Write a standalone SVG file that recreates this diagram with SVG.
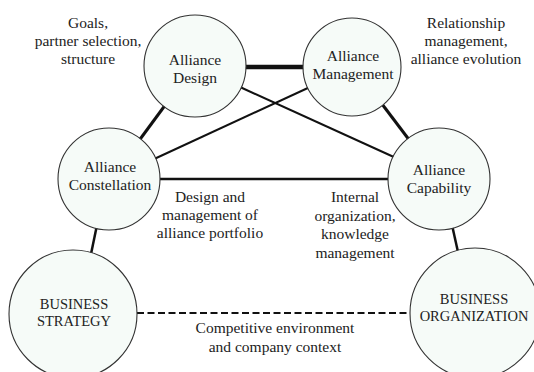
<svg xmlns="http://www.w3.org/2000/svg" width="534" height="372" viewBox="0 0 534 372">
  <style>
    .node { fill: #f6fbf8; stroke: #333; stroke-width: 1.1; }
    .lbl { font-family: "Liberation Serif", "Times New Roman", serif; font-size: 15.5px; fill: #222; text-anchor: middle; }
    .caps { font-size: 14.5px; }
    .edge { stroke: #111; fill: none; }
  </style>
  <rect width="534" height="372" fill="#ffffff"/>

  <!-- connectors drawn first so the circles cover their ends -->
  <g id="connectors">
    <line class="edge" x1="240" y1="67" x2="308" y2="67" stroke-width="4.5"/>
    <line class="edge" x1="166" y1="104" x2="138" y2="142" stroke-width="3"/>
    <line class="edge" x1="382" y1="104" x2="410" y2="141" stroke-width="3"/>
    <line class="edge" x1="240" y1="87" x2="396" y2="158" stroke-width="2"/>
    <line class="edge" x1="310" y1="87" x2="152" y2="160" stroke-width="2"/>
    <line class="edge" x1="156" y1="179" x2="392" y2="179" stroke-width="2.5"/>
    <line class="edge" x1="97" y1="225" x2="91" y2="254" stroke-width="2.5"/>
    <line class="edge" x1="452" y1="225" x2="458" y2="252" stroke-width="2.5"/>
    <line class="edge" x1="137" y1="313" x2="411" y2="313" stroke-width="2" stroke-dasharray="7,3.5"/>
  </g>

  <g id="alliance-design">
    <circle class="node" cx="195" cy="66" r="51"/>
    <text class="lbl" x="195" y="65">Alliance</text>
    <text class="lbl" x="195" y="83">Design</text>
  </g>

  <g id="alliance-management">
    <circle class="node" cx="352" cy="67" r="49"/>
    <text class="lbl" x="353" y="61">Alliance</text>
    <text class="lbl" x="353" y="79">Management</text>
  </g>

  <g id="alliance-constellation">
    <circle class="node" cx="109" cy="179" r="51"/>
    <text class="lbl" x="110" y="172">Alliance</text>
    <text class="lbl" x="110" y="190">Constellation</text>
  </g>

  <g id="alliance-capability">
    <circle class="node" cx="439" cy="179" r="51"/>
    <text class="lbl" x="439" y="175">Alliance</text>
    <text class="lbl" x="439" y="193">Capability</text>
  </g>

  <g id="business-strategy">
    <circle class="node" cx="73" cy="314" r="64"/>
    <text class="lbl caps" x="74" y="309">BUSINESS</text>
    <text class="lbl caps" x="74" y="326">STRATEGY</text>
  </g>

  <g id="business-organization">
    <circle class="node" cx="475" cy="313" r="65"/>
    <text class="lbl caps" x="474" y="304">BUSINESS</text>
    <text class="lbl caps" x="474" y="321">ORGANIZATION</text>
  </g>

  <!-- free-standing annotations -->
  <g id="notes">
    <text class="lbl" x="88" y="28">Goals,</text>
    <text class="lbl" x="88" y="46">partner selection,</text>
    <text class="lbl" x="88" y="64">structure</text>

    <text class="lbl" x="466" y="28">Relationship</text>
    <text class="lbl" x="466" y="46">management,</text>
    <text class="lbl" x="466" y="64">alliance evolution</text>

    <text class="lbl" x="210" y="202">Design and</text>
    <text class="lbl" x="210" y="220">management of</text>
    <text class="lbl" x="210" y="238">alliance portfolio</text>

    <text class="lbl" x="355" y="202">Internal</text>
    <text class="lbl" x="355" y="220.5">organization,</text>
    <text class="lbl" x="355" y="239">knowledge</text>
    <text class="lbl" x="355" y="257.5">management</text>

    <text class="lbl" x="275" y="333">Competitive environment</text>
    <text class="lbl" x="275" y="352">and company context</text>
  </g>
</svg>
